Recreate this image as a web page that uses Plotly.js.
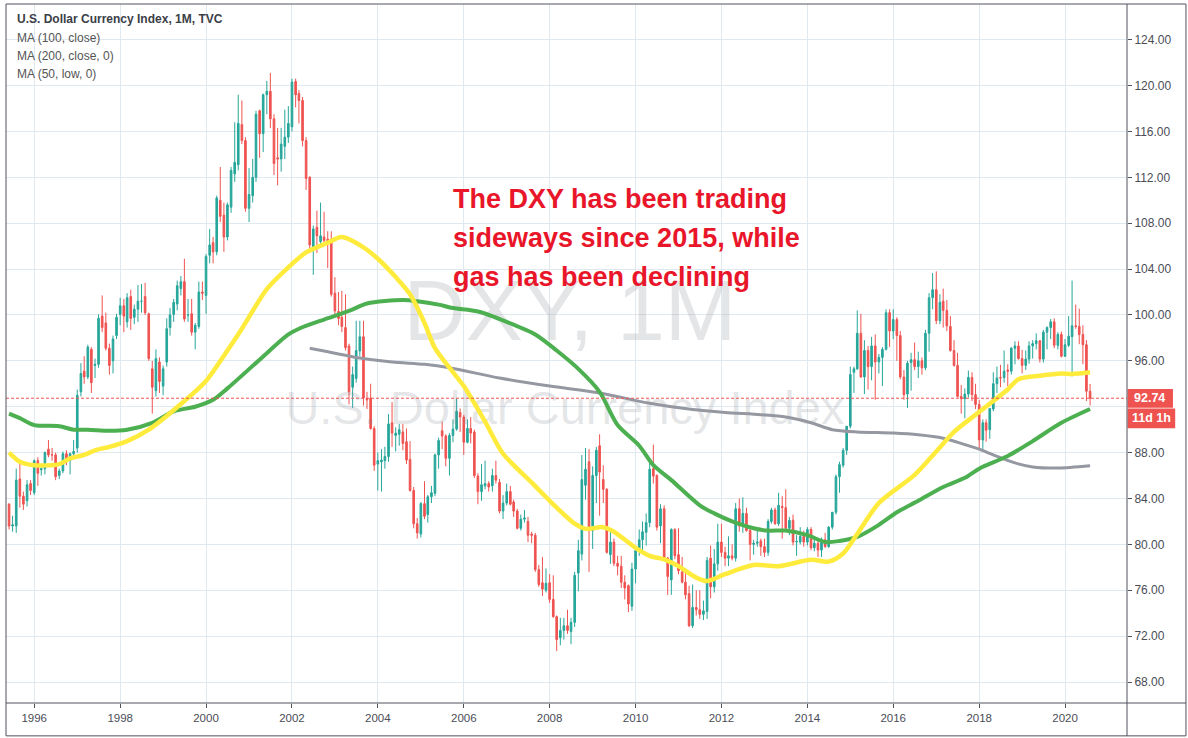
<!DOCTYPE html>
<html>
<head>
<meta charset="utf-8">
<script src="https://cdn.plot.ly/plotly-3.0.1.min.js"></script>
<style>
  html, body { margin: 0; padding: 0; background: #fff; }
  #chart { width: 1188px; height: 738px; }
</style>
</head>
<body>
<div id="chart"></div>
<script>
// U.S. Dollar Currency Index (DXY), 1M candles, Jun 1995 - Aug 2020

var firstYear = 1995, firstMonth = 6;

var opens = [
    83.5, 81.6, 81.6, 85.7, 84.2, 83.8, 85.3,                                   // 1995 Jun-Dec
    84.5, 87.3, 86.5, 86.6, 88.3, 87.8, 87.8, 86.0, 86.4, 87.9, 87.3, 87.9,     // 1996
    88.4, 93.3, 95.1, 94.6, 97.0, 95.6, 95.7, 99.9, 99.3, 97.1, 96.0, 98.2,     // 1997
    100.05, 100.8, 99.4, 101.6, 99.8, 100.5, 101.2, 101.6, 100.1, 95.3, 93.4, 95.9,
    93.8, 95.9, 98.9, 100.05, 100.95, 102.3, 102.9, 100.0, 100.1, 98.5, 99.0, 102.0,
    101.7, 105.2, 106.3, 105.5, 110.0, 108.7, 106.8, 109.4, 112.3, 113.1, 116.6, 115.2,
    109.3, 110.4, 112.0, 117.8, 115.8, 119.2, 119.5, 117.1, 113.7, 113.6, 114.7, 115.5,
    116.4, 120.35, 119.3, 118.7, 115.2, 112.0, 105.8, 107.65, 106.4, 106.8, 106.6, 106.6,
    101.9, 100.3, 99.8, 98.9, 97.3, 93.7, 94.45, 96.85, 98.1, 92.7, 92.75, 90.1,  // 2003
    87.0, 87.2, 87.3, 87.65, 90.6, 89.5, 89.6, 89.8, 88.95, 87.4, 84.7, 81.8,
    80.9, 83.55, 82.6, 84.15, 84.45, 87.8, 89.9, 89.45, 87.5, 89.5, 90.05, 91.5,
    91.1, 88.9, 90.1, 89.8, 85.95, 84.6, 85.1, 85.3, 85.1, 86.0, 85.4, 82.9,
    83.6, 84.6, 83.7, 82.9, 81.4, 82.2, 82.0, 80.9, 80.8, 77.8, 76.65, 76.0,
    76.65, 75.2, 73.7, 71.85, 72.5, 72.9, 72.4, 73.2, 77.5, 79.15, 85.15, 87.2,  // 2008
    81.2, 86.0, 88.6, 85.65, 84.8, 79.1, 80.2, 78.35, 78.1, 76.7, 76.4, 74.6,
    77.85, 79.45, 80.4, 81.05, 81.9, 86.6, 86.0, 81.6, 83.1, 78.8, 76.9, 81.3,
    79.1, 77.6, 76.7, 75.7, 72.9, 74.5, 74.3, 73.9, 74.15, 78.8, 76.3, 78.3,
    80.2, 79.3, 78.8, 79.0, 78.8, 83.1, 81.6, 82.7, 81.2, 80.0, 80.1, 80.3,
    79.8, 79.3, 82.0, 83.0, 81.8, 83.3, 83.2, 81.4, 82.1, 80.2, 80.2, 80.7,     // 2013
    80.2, 81.3, 79.7, 80.1, 79.5, 80.4, 79.8, 81.5, 82.8, 85.9, 86.9, 88.2,
    90.3, 95.0, 95.3, 98.4, 94.6, 96.9, 95.5, 97.3, 95.9, 96.3, 97.0, 100.2,
    98.6, 99.6, 98.2, 94.6, 93.1, 95.85, 96.1, 95.5, 96.0, 95.4, 98.4, 101.5,
    102.2, 99.5, 101.2, 100.4, 99.0, 96.9, 95.6, 92.9, 92.7, 93.1, 94.55, 93.05,
    92.2, 89.1, 90.6, 90.0, 91.8, 94.0, 94.55, 94.55, 95.2, 95.1, 97.1, 97.3,   // 2018
    96.2, 95.6, 96.15, 97.3, 97.5, 97.75, 96.15, 98.5, 98.9, 99.4, 97.35, 98.3,
    96.4, 97.35, 98.1, 99.05, 99.0, 98.3, 97.4, 93.35                           // 2020 Jan-Aug
];

var highs = [
    83.6, 82.5, 86.6, 87.4, 84.6, 85.6, 85.6,
    87.4, 87.6, 87.0, 88.1, 89.1, 88.4, 88.0, 86.6, 88.1, 88.2, 88.0, 89.1,
    93.5, 95.8, 96.4, 97.4, 97.2, 96.2, 100.05, 101.7, 100.2, 97.5, 98.2, 100.1,
    101.5, 101.4, 101.9, 102.2, 100.9, 102.6, 102.7, 102.8, 100.2, 96.0, 97.0, 96.3,
    95.6, 99.7, 100.6, 101.4, 103.0, 103.4, 104.9, 101.4, 101.4, 99.3, 102.9, 102.9,
    105.3, 107.5, 106.8, 110.4, 112.9, 109.8, 109.8, 112.9, 116.8, 119.2, 118.7, 115.5,
    112.8, 113.6, 117.8, 117.9, 119.3, 120.4, 121.1, 117.5, 116.3, 116.3, 117.9, 118.2,
    120.6, 120.6, 119.6, 119.0, 115.5, 112.1, 107.8, 109.1, 109.8, 109.0, 107.3, 107.3,
    103.3, 102.0, 102.1, 101.8, 97.5, 95.5, 99.5, 99.5, 99.5, 93.3, 94.0, 90.3,
    88.0, 88.3, 88.5, 91.35, 92.4, 90.2, 90.5, 90.5, 90.1, 89.0, 85.0, 82.3,
    83.7, 85.5, 84.3, 85.1, 87.9, 89.3, 90.7, 89.6, 89.7, 90.9, 92.7, 91.85,
    91.3, 90.9, 91.1, 90.0, 86.2, 87.0, 87.3, 85.5, 86.6, 87.3, 85.7, 84.3,
    85.3, 85.1, 83.9, 83.1, 82.6, 83.0, 82.4, 81.1, 81.0, 78.2, 78.9, 77.9,
    77.4, 77.3, 73.8, 73.6, 73.6, 74.3, 73.6, 77.6, 80.4, 87.8, 88.4, 88.3,
    86.8, 88.5, 89.6, 86.9, 84.9, 81.1, 80.5, 79.0, 79.0, 77.3, 76.5, 78.4,
    79.8, 81.3, 82.0, 82.7, 87.1, 88.7, 86.1, 83.5, 83.4, 78.9, 81.4, 81.4,
    81.4, 78.9, 77.6, 76.4, 76.5, 76.0, 76.0, 75.1, 78.9, 79.9, 79.6, 81.8,
    81.8, 79.8, 80.7, 80.0, 83.6, 84.0, 84.1, 83.2, 81.5, 80.4, 81.5, 80.5,
    80.5, 82.2, 83.2, 83.2, 84.5, 84.2, 84.8, 82.4, 82.6, 80.8, 81.5, 81.2,
    81.5, 81.5, 80.7, 80.3, 80.6, 81.0, 81.6, 82.8, 86.1, 87.2, 88.4, 90.3,
    95.5, 95.5, 100.4, 100.1, 97.8, 97.3, 98.1, 98.3, 96.6, 97.2, 100.5, 100.5,
    100.5, 99.8, 98.6, 95.2, 96.0, 96.7, 97.6, 96.8, 96.3, 98.7, 101.9, 103.65,
    103.8, 101.8, 102.3, 101.3, 99.9, 97.8, 96.7, 93.9, 93.6, 95.15, 95.0, 94.0,
    92.6, 90.9, 90.9, 91.85, 95.0, 95.5, 95.65, 96.9, 95.7, 97.2, 97.7, 97.7,
    96.95, 96.9, 97.7, 97.8, 98.4, 97.8, 98.7, 99.0, 99.65, 99.7, 98.5, 98.55,
    97.9, 99.9, 103.0, 100.9, 100.55, 99.1, 97.8, 93.99
];

var lows = [
    81.3, 81.1, 81.0, 83.2, 83.0, 83.3, 84.3,
    84.3, 85.1, 86.0, 86.1, 87.6, 87.3, 85.6, 85.7, 86.2, 86.9, 86.1, 87.6,
    88.0, 92.9, 94.0, 94.4, 93.2, 94.5, 95.4, 98.5, 96.9, 94.8, 94.9, 97.9,
    99.1, 98.5, 98.9, 98.7, 99.2, 99.4, 100.2, 100.0, 96.0, 91.4, 92.9, 93.2,
    93.0, 95.5, 98.2, 99.4, 100.4, 101.7, 99.4, 99.4, 98.2, 97.0, 98.8, 101.3,
    100.1, 104.5, 104.5, 105.2, 108.1, 105.5, 106.5, 108.9, 111.6, 112.6, 114.9, 109.0,
    108.1, 109.8, 111.6, 113.7, 114.2, 117.5, 116.3, 112.2, 111.3, 112.5, 113.6, 115.0,
    116.0, 118.1, 116.7, 114.7, 110.9, 105.4, 103.5, 105.4, 106.2, 106.2, 104.1, 101.6,
    99.8, 99.1, 98.5, 96.9, 92.2, 91.9, 94.1, 96.4, 92.1, 91.8, 90.0, 86.4,
    84.7, 84.6, 86.6, 87.2, 88.5, 88.1, 88.6, 88.2, 87.0, 84.6, 81.4, 80.5,
    80.6, 82.2, 81.9, 83.6, 84.2, 86.6, 88.3, 86.8, 86.0, 88.9, 89.9, 89.8,
    87.8, 88.8, 88.8, 85.8, 83.5, 83.8, 84.8, 84.6, 84.6, 85.3, 82.7, 82.2,
    83.4, 83.4, 82.4, 81.3, 81.2, 81.9, 80.2, 80.1, 77.6, 76.3, 75.5, 75.8,
    74.9, 73.6, 70.7, 71.2, 71.7, 72.2, 71.3, 72.8, 75.9, 78.6, 83.9, 77.6,
    79.6, 83.6, 82.5, 83.6, 79.2, 78.3, 78.1, 77.3, 76.2, 75.2, 74.1, 74.2,
    76.6, 79.0, 79.3, 79.9, 81.5, 85.3, 81.2, 80.1, 78.6, 75.6, 75.6, 78.7,
    77.4, 76.6, 75.2, 72.8, 72.7, 73.8, 73.5, 73.4, 73.5, 75.3, 75.8, 77.7,
    78.9, 78.1, 78.1, 78.6, 78.5, 81.1, 81.0, 81.1, 78.6, 79.1, 79.8, 79.0,
    78.9, 79.0, 81.8, 81.7, 81.6, 80.5, 81.2, 80.8, 79.9, 79.0, 80.0, 79.8,
    79.9, 79.5, 79.4, 78.9, 78.9, 79.7, 79.7, 81.3, 82.6, 84.5, 86.7, 87.8,
    90.1, 93.2, 95.2, 94.5, 93.1, 93.5, 94.3, 92.6, 94.9, 93.8, 96.9, 97.2,
    97.9, 96.0, 94.4, 92.6, 91.9, 93.4, 95.2, 94.5, 94.8, 95.2, 96.8, 100.5,
    99.2, 99.2, 98.9, 98.6, 96.8, 95.5, 92.8, 91.4, 91.0, 92.8, 92.5, 91.8,
    88.4, 88.2, 88.95, 89.2, 91.6, 93.2, 93.7, 94.1, 93.8, 94.8, 95.7, 96.1,
    94.9, 95.2, 95.75, 96.2, 97.0, 95.85, 95.85, 97.0, 97.9, 97.1, 97.0, 96.3,
    96.35, 97.2, 94.65, 98.8, 97.45, 95.7, 92.5, 92.1
];

var closes = [
    81.6, 81.7, 85.6, 84.2, 83.5, 85.2, 84.7,
    87.3, 86.2, 86.6, 88.0, 87.8, 87.8, 85.9, 86.4, 87.9, 87.3, 87.9, 88.1,
    93.0, 94.9, 94.6, 97.2, 94.1, 95.7, 99.7, 98.9, 97.1, 95.6, 97.9, 99.8,
    100.8, 99.9, 101.5, 99.7, 100.5, 101.2, 101.2, 100.2, 96.2, 93.7, 96.2, 94.2,
    95.3, 98.8, 100.0, 101.1, 102.55, 102.9, 99.65, 100.0, 98.5, 99.1, 102.0, 101.9,
    105.1, 106.1, 105.5, 110.2, 108.6, 106.8, 109.6, 112.6, 113.3, 116.7, 115.2, 109.3,
    110.5, 112.0, 117.5, 115.8, 119.2, 119.5, 117.1, 113.2, 113.6, 114.9, 115.5, 116.7,
    120.3, 119.2, 118.7, 115.2, 111.9, 106.1, 107.5, 106.9, 106.9, 106.5, 106.3, 101.8,
    100.35, 99.7, 99.0, 97.15, 93.3, 94.8, 96.9, 98.1, 92.75, 92.6, 90.1, 86.9,
    87.3, 87.35, 87.65, 90.5, 89.7, 89.7, 90.0, 88.8, 87.35, 84.7, 81.8, 81.0,
    83.55, 82.45, 84.15, 84.5, 87.8, 89.05, 89.45, 87.5, 89.5, 90.05, 91.6, 91.1,
    88.9, 90.1, 89.7, 86.0, 84.6, 85.2, 85.3, 85.0, 86.0, 85.6, 82.9, 83.6,
    84.6, 83.5, 82.9, 81.4, 82.2, 82.3, 80.8, 80.8, 77.8, 76.5, 76.1, 76.6,
    75.2, 73.7, 71.7, 72.5, 72.9, 72.5, 73.2, 77.3, 79.45, 85.65, 86.55, 81.2,
    86.0, 88.2, 86.3, 84.8, 79.3, 80.2, 78.35, 78.1, 76.7, 76.2, 74.8, 77.85,
    79.45, 80.4, 81.1, 81.9, 86.55, 85.95, 81.5, 83.1, 78.8, 77.2, 81.3, 79.0,
    77.7, 76.7, 75.6, 72.9, 74.5, 74.3, 73.9, 74.2, 78.6, 76.3, 78.3, 80.2,
    79.3, 78.8, 79.0, 78.8, 83.1, 81.6, 82.7, 81.2, 80.0, 80.1, 80.2, 79.8,
    79.3, 82.0, 83.0, 81.8, 83.4, 83.2, 81.4, 82.1, 80.2, 80.25, 80.7, 80.2,
    81.3, 79.7, 80.1, 79.5, 80.4, 79.8, 81.5, 82.8, 85.9, 86.95, 88.2, 90.3,
    94.8, 95.3, 98.4, 94.6, 96.9, 95.5, 97.3, 95.9, 96.3, 97.0, 100.2, 98.6,
    99.6, 98.2, 94.6, 93.05, 95.8, 96.1, 95.5, 96.0, 95.4, 98.4, 101.5, 102.2,
    99.5, 101.1, 100.4, 99.05, 96.9, 95.6, 92.9, 92.7, 93.1, 94.55, 93.05, 92.2,
    89.1, 90.6, 89.95, 91.85, 94.0, 94.5, 94.5, 95.1, 95.1, 97.1, 97.3, 96.2,
    95.6, 96.15, 97.3, 97.5, 97.75, 96.15, 98.5, 98.9, 99.4, 97.35, 98.3, 96.4,
    97.4, 98.15, 99.05, 99.0, 98.3, 97.4, 93.35, 92.74
];

// moving averages (month, value)
var ma50LowDates = ['1995-06','1995-09','1996-01','1996-08','1996-11','1997-03','1997-06','1997-10',
    '1998-03','1998-09','1999-07','2000-01','2000-07','2000-11','2001-06','2001-12','2002-05','2002-11',
    '2003-03','2003-09','2004-01','2004-06','2004-10','2005-02','2005-05','2005-09','2006-01','2006-07',
    '2006-12','2007-08','2008-01','2008-03','2008-08','2008-11','2009-04','2009-07','2010-01','2010-05',
    '2010-09','2011-01','2011-06','2011-09','2012-02','2012-10','2013-05','2014-02','2014-07','2014-11',
    '2015-03','2015-09','2016-07','2017-01','2017-06','2017-12','2018-05','2018-09','2018-12','2019-06',
    '2019-12','2020-03','2020-08'];
var ma50LowVals = [88.0, 87.2, 86.9, 87.0, 87.5, 87.8, 88.2, 88.5,
    89.0, 90.0, 92.5, 94.25, 96.9, 98.8, 102.25, 104.15, 105.45, 106.3,
    106.8, 105.9, 104.9, 103.3, 101.8, 99.3, 97.1, 95.4, 93.8, 90.7,
    87.9, 85.4, 83.8, 83.2, 81.8, 81.35, 81.5, 81.1, 79.7, 79.0,
    78.7, 78.1, 77.1, 76.8, 77.4, 78.2, 78.1, 78.65, 78.5, 79.2,
    80.9, 83.6, 86.05, 88.1, 89.8, 91.3, 92.5, 93.5, 94.4, 94.7,
    94.9, 94.85, 95.0];

var ma100Dates = ['1995-06','1995-09','1996-01','1996-08','1996-12','1997-04','1997-10','1998-03',
    '1998-10','1999-04','1999-10','2000-03','2000-07','2001-04','2001-12','2002-03','2002-10','2003-05',
    '2003-10','2004-08','2004-12','2005-06','2005-10','2006-05','2007-01','2007-09','2008-03','2008-09',
    '2009-03','2009-08','2010-02','2010-06','2010-11','2011-07','2011-11','2012-04','2012-10','2013-02',
    '2013-07','2014-01','2014-06','2014-10','2015-03','2015-09','2016-02','2016-08','2017-03','2017-09',
    '2018-01','2018-09','2019-04','2019-12','2020-08'];
var ma100Vals = [91.4, 91.0, 90.4, 90.3, 90.0, 90.0, 89.9, 90.0,
    90.6, 91.6, 92.0, 92.6, 93.6, 96.1, 98.3, 98.8, 99.6, 100.35,
    101.0, 101.3, 101.2, 100.9, 100.6, 100.3, 99.4, 98.3, 96.9, 95.3,
    93.3, 90.4, 88.6, 86.9, 85.6, 83.4, 82.7, 82.0, 81.4, 81.2,
    81.2, 80.8, 80.2, 80.3, 80.65, 81.7, 82.8, 83.8, 85.0, 85.8,
    86.6, 87.7, 89.0, 90.6, 91.8];

var ma200Dates = ['2002-06','2002-10','2003-07','2004-05','2005-02','2005-09','2006-11','2008-01',
    '2009-03','2010-05','2011-05','2012-02','2012-12','2013-07','2014-02','2014-08','2015-03','2016-01',
    '2016-08','2017-03','2017-09','2018-01','2018-05','2018-11','2019-04','2019-11','2020-08'];
var ma200Vals = [97.1, 96.85, 96.3, 95.9, 95.7, 95.4, 94.5, 93.8,
    93.2, 92.3, 91.75, 91.5, 91.3, 91.1, 90.6, 90.0, 89.8, 89.7,
    89.55, 89.25, 88.7, 88.3, 87.8, 87.1, 86.75, 86.65, 86.85];

var priceTicks = [68, 72, 76, 80, 84, 88, 92, 96, 100, 104, 108, 112, 116, 120, 124];
var legendLines = ['MA (100, close)', 'MA (200, close, 0)', 'MA (50, low, 0)'];
var noteLines = ['The DXY has been trading', 'sideways since 2015, while', 'gas has been declining'];

// month labels for the candles
var months = closes.map(function (c, i) {
    var t = firstMonth - 1 + i;
    var m = t % 12 + 1;
    return (firstYear + Math.floor(t / 12)) + '-' + (m < 10 ? '0' + m : m) + '-01';
});
var lastClose = closes[closes.length - 1];

// the last-price tag covers the scale label next to it, as on the original
var priceLabels = priceTicks.map(function (v) {
    return Math.abs(v - lastClose) < 1.6 ? '' : v.toFixed(2);
});

var up = '#26a69a', down = '#ef5350';
var axisColor = '#50535e', gridColor = '#e1e9f0';
var fontFam = 'Liberation Sans, Arial, sans-serif';

var data = [
    // watermark behind the candles
    {
        type: 'scatter', mode: 'text', x: ['2008-06-22'], y: [99.7], text: ['DXY, 1M'],
        textfont: { family: fontFam, size: 86, color: 'rgba(120,123,134,0.2)' },
        hoverinfo: 'skip', showlegend: false
    },
    {
        type: 'scatter', mode: 'text', x: ['2008-05-10'], y: [91.5], text: ['U.S. Dollar Currency Index'],
        textfont: { family: fontFam, size: 47, color: 'rgba(120,123,134,0.2)' },
        hoverinfo: 'skip', showlegend: false
    },
    {
        type: 'candlestick', x: months, open: opens, high: highs, low: lows, close: closes,
        increasing: { line: { color: up, width: 1 }, fillcolor: up },
        decreasing: { line: { color: down, width: 1 }, fillcolor: down },
        whiskerwidth: 0, showlegend: false, hoverinfo: 'skip'
    },
    {
        type: 'scatter', mode: 'lines', x: ma200Dates, y: ma200Vals,
        line: { color: '#9598a1', width: 3, shape: 'spline', smoothing: 0.8 }, showlegend: false
    },
    {
        type: 'scatter', mode: 'lines', x: ma100Dates, y: ma100Vals,
        line: { color: '#4caf50', width: 4, shape: 'spline', smoothing: 0.8 }, showlegend: false
    },
    {
        type: 'scatter', mode: 'lines', x: ma50LowDates, y: ma50LowVals,
        line: { color: '#ffeb3b', width: 4.5, shape: 'spline', smoothing: 0.8 }, showlegend: false
    }
];

var annotations = [
    {
        xref: 'paper', yref: 'paper', x: 0.008, y: 0.978, xanchor: 'left', yanchor: 'middle',
        text: '<b>U.S. Dollar Currency Index, 1M, TVC</b>', showarrow: false,
        font: { family: fontFam, size: 12, color: '#3b3e47' }
    },
    // current price and countdown tags on the price scale
    {
        xref: 'paper', yref: 'y', x: 1.0205, y: lastClose, xanchor: 'center', yanchor: 'middle',
        text: '<b>' + lastClose.toFixed(2) + '</b>',
        showarrow: false, font: { family: fontFam, size: 12.5, color: '#fff' }
    },
    {
        xref: 'paper', yref: 'y', x: 1.0215, y: lastClose - 1.76, xanchor: 'center', yanchor: 'middle',
        text: '<b>11d 1h</b>',
        showarrow: false, font: { family: fontFam, size: 12.5, color: '#fff' }
    }
];
legendLines.forEach(function (t, i) {
    annotations.push({
        xref: 'paper', yref: 'paper', x: 0.008, y: 0.951 - i * 0.0255, xanchor: 'left', yanchor: 'middle',
        text: t, showarrow: false,
        font: { family: fontFam, size: 12, color: '#555' }
    });
});
noteLines.forEach(function (t, i) {
    annotations.push({
        xref: 'paper', yref: 'paper', x: 0.397, y: 0.721 - i * 0.056, xanchor: 'left', yanchor: 'middle',
        text: '<b>' + t + '</b>', showarrow: false,
        font: { family: fontFam, size: 27, color: '#e9162a' }
    });
});

var shapes = [
    // dotted line at the last close
    {
        type: 'line', xref: 'paper', yref: 'y', x0: 0, x1: 1, y0: lastClose, y1: lastClose,
        line: { color: down, width: 1, dash: '3px,2px' }
    },
    {
        type: 'rect', xref: 'paper', yref: 'y', x0: 1.0005, x1: 1.041, y0: lastClose - 0.82, y1: lastClose + 0.8,
        fillcolor: down, line: { width: 0 }, layer: 'above'
    },
    {
        type: 'rect', xref: 'paper', yref: 'y', x0: 1.0005, x1: 1.043, y0: lastClose - 2.62, y1: lastClose - 0.9,
        fillcolor: down, line: { width: 0 }, layer: 'above'
    },
    // frame round the whole chart and the scale separators
    {
        type: 'rect', xref: 'paper', yref: 'paper', x0: 0, x1: 1.0526, y0: -0.047, y1: 1,
        line: { color: axisColor, width: 1 }, layer: 'above'
    },
    {
        type: 'line', xref: 'paper', yref: 'paper', x0: 1, x1: 1, y0: -0.047, y1: 1,
        line: { color: axisColor, width: 1 }, layer: 'above'
    },
    {
        type: 'line', xref: 'paper', yref: 'paper', x0: 0, x1: 1.0526, y0: 0, y1: 0,
        line: { color: axisColor, width: 1 }, layer: 'above'
    }
];

var layout = {
    width: 1188,
    height: 738,
    margin: { l: 6, r: 61, t: 4, b: 35 },
    paper_bgcolor: '#ffffff',
    plot_bgcolor: '#ffffff',
    font: { family: fontFam, color: '#4a4d56' },
    showlegend: false,
    xaxis: {
        type: 'date',
        range: ['1995-05-06', '2021-06-11'],
        rangeslider: { visible: false },
        tick0: '1996-01-01', dtick: 'M24', tickformat: '%Y',
        ticks: 'outside', ticklen: 4, tickcolor: axisColor,
        tickfont: { size: 11.5, color: '#4a4d56' },
        showgrid: true, gridcolor: gridColor, gridwidth: 1,
        showline: false, zeroline: false
    },
    yaxis: {
        side: 'right',
        range: [66.17, 127.11],
        tickmode: 'array', tickvals: priceTicks, ticktext: priceLabels,
        ticks: 'outside', ticklen: 4, tickcolor: axisColor,
        tickfont: { size: 12, color: '#4a4d56' },
        showgrid: true, gridcolor: gridColor, gridwidth: 1,
        showline: false, zeroline: false
    },
    shapes: shapes,
    annotations: annotations
};

Plotly.newPlot('chart', data, layout, { staticPlot: true, displayModeBar: false });
</script>
</body>
</html>
